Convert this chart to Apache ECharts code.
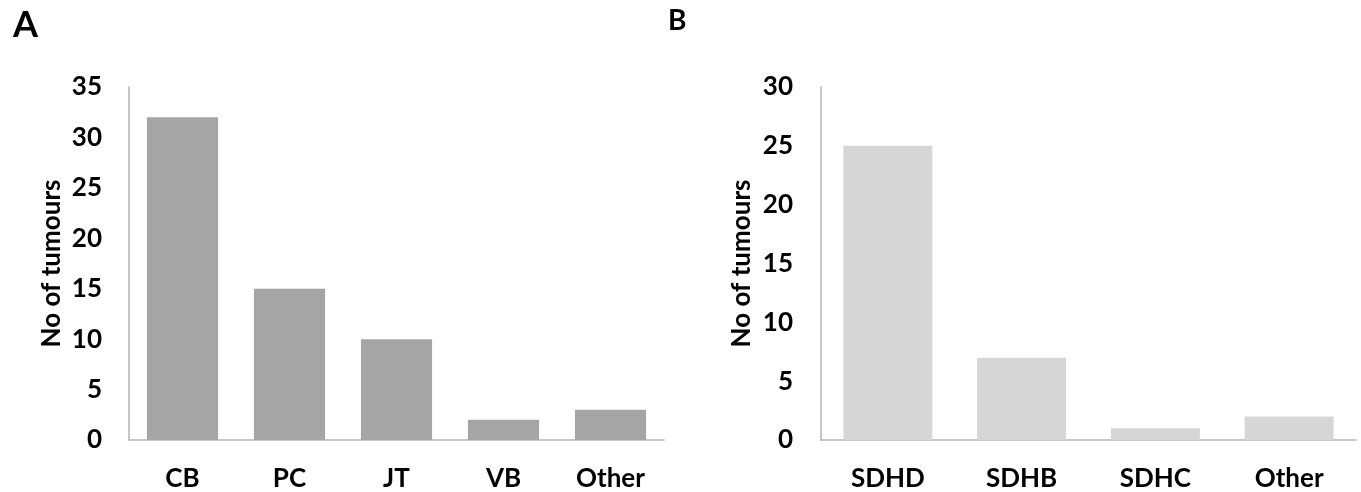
<!DOCTYPE html>
<html>
<head>
<meta charset="utf-8">
<script src="https://cdn.jsdelivr.net/npm/echarts@6/dist/echarts.min.js"></script>
<style>
html,body{margin:0;padding:0;background:#fff;}
#chart{width:1361px;height:492px;}
</style>
</head>
<body>
<div id="chart"></div>
<script>
const catsA = ['CB', 'PC', 'JT', 'VB', 'Other'];
const valsA = [32, 15, 10, 2, 3];
const catsB = ['SDHD', 'SDHB', 'SDHC', 'Other'];
const valsB = [25, 7, 1, 2];
const yMaxA = 35, yMaxB = 30, yStep = 5;
const yTitle = 'No of tumours';
const panelLabels = ['A', 'B'];

const FONT = 'Lato';
const axisLineStyle = { color: '#b5b5b5', width: 1.5 };
const labelStyle = { fontFamily: FONT, fontWeight: 'bold', fontSize: 26, color: '#000' };

const chart = echarts.init(document.getElementById('chart'), null, { renderer: 'canvas' });
chart.setOption({
  backgroundColor: '#fff',
  animation: false,
  title: [
    { text: panelLabels[0], left: 8, top: 2, textStyle: { fontFamily: FONT, fontWeight: 'bold', fontSize: 36, color: '#000' } },
    { text: panelLabels[1], left: 663, top: 2, textStyle: { fontFamily: FONT, fontWeight: 'bold', fontSize: 28, color: '#000' } }
  ],
  grid: [
    { left: 129, right: 697, top: 87, bottom: 51, containLabel: false },
    { left: 821, right: 5, top: 87, bottom: 51, containLabel: false }
  ],
  xAxis: [
    { type: 'category', gridIndex: 0, data: catsA, axisLine: { lineStyle: axisLineStyle }, axisTick: { show: false },
      axisLabel: Object.assign({ margin: 26 }, labelStyle) },
    { type: 'category', gridIndex: 1, data: catsB, axisLine: { lineStyle: axisLineStyle }, axisTick: { show: false },
      axisLabel: Object.assign({ margin: 26 }, labelStyle) }
  ],
  yAxis: [
    { type: 'value', gridIndex: 0, min: 0, max: yMaxA, interval: yStep,
      name: yTitle, nameLocation: 'middle', nameRotate: 90, nameGap: 64,
      nameTextStyle: labelStyle,
      axisLine: { show: true, lineStyle: axisLineStyle }, axisTick: { show: false }, splitLine: { show: false },
      axisLabel: Object.assign({ margin: 27 }, labelStyle) },
    { type: 'value', gridIndex: 1, min: 0, max: yMaxB, interval: yStep,
      name: yTitle, nameLocation: 'middle', nameRotate: 90, nameGap: 66,
      nameTextStyle: labelStyle,
      axisLine: { show: true, lineStyle: axisLineStyle }, axisTick: { show: false }, splitLine: { show: false },
      axisLabel: Object.assign({ margin: 28 }, labelStyle) }
  ],
  series: [
    { type: 'bar', xAxisIndex: 0, yAxisIndex: 0, data: valsA, barWidth: '66.5%', itemStyle: { color: '#a5a5a5' } },
    { type: 'bar', xAxisIndex: 1, yAxisIndex: 1, data: valsB, barWidth: '66.5%', itemStyle: { color: '#d6d6d6' } }
  ]
});
</script>
</body>
</html>
